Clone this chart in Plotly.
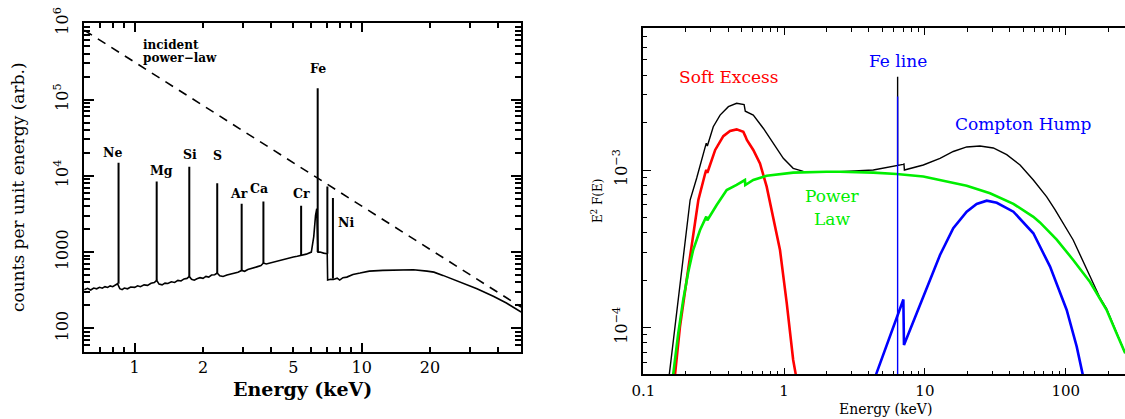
import plotly.graph_objects as go

# ---------------- data: left panel (reflection spectrum) ----------------
cont_E = [0.60, 0.62, 0.64, 0.66, 0.68, 0.70, 0.72, 0.74, 0.76, 0.78, 0.80, 0.82, 0.84, 0.86, 0.88,
          0.90, 0.93, 0.96, 1.00, 1.03, 1.06, 1.10, 1.14, 1.18, 1.22, 1.25, 1.28, 1.32, 1.36, 1.40,
          1.45, 1.50, 1.55, 1.60, 1.65, 1.70, 1.74, 1.78, 1.83, 1.88, 1.94, 2.00, 2.06, 2.12, 2.18,
          2.25, 2.31, 2.37, 2.45, 2.55, 2.65, 2.75, 2.85, 2.96, 3.05, 3.15, 3.30, 3.45, 3.60, 3.69,
          3.80, 4.00, 4.20, 4.40, 4.70, 5.00, 5.20, 5.44, 5.70, 6.00, 6.15, 6.26, 6.34, 6.42, 6.55,
          6.80, 7.05, 7.08, 7.30, 7.50, 7.80, 8.00, 8.27, 8.60, 9.15, 9.84, 10.8, 12.4, 14.7, 16.9,
          19.4, 20.8, 22.8, 27.1, 32.2, 38.2, 43.4, 50.4]
cont_V = [321, 335, 318, 338, 330, 345, 336, 352, 344, 360, 352, 372, 385, 331, 322,
          338, 330, 348, 345, 362, 352, 372, 366, 390, 398, 426, 380, 372, 392, 388,
          408, 400, 425, 418, 445, 452, 479, 440, 428, 448, 462, 452, 480, 470, 500,
          505, 531, 490, 479, 500, 512, 530, 545, 575, 560, 590, 610, 640, 665, 718,
          700, 730, 760, 778, 820, 860, 880, 906, 940, 1000, 1600, 3000, 3700, 1000, 1000,
          970, 950, 430, 440, 438, 455, 430, 462, 470, 510, 531, 563, 575, 575, 588,
          563, 546, 495, 405, 331, 262, 215, 164]

line_names = ["Ne", "Mg", "Si", "S", "Ar", "Ca", "Cr", "Fe", "", "Ni"]
line_E = [0.849, 1.25, 1.74, 2.31, 2.96, 3.69, 5.41, 6.40, 7.06, 7.47]
line_base = [385, 426, 479, 531, 575, 718, 906, 1000, 950, 448]
line_peak = [14800, 8420, 13200, 8020, 4300, 4600, 4040, 141000, 7240, 5110]

pl_E = [0.6, 50.4]
pl_V = [8.1e5, 190]

# ---------------- data: right panel (model components) ----------------
tot_E = [0.153, 0.168, 0.187, 0.215, 0.2395, 0.253, 0.275, 0.28, 0.285, 0.314, 0.351, 0.402, 0.46,
         0.52, 0.53, 0.604, 0.711, 0.838, 0.987, 1.16, 1.37, 2.0, 2.49, 4.3, 6.3, 6.4, 6.4, 6.4,
         7.0, 7.1, 7.15, 9.74, 12.8, 15.9, 19.8, 24.6, 30.6, 38.1, 47.4, 58.9, 73.3, 83.9, 113,
         148.8, 175, 195, 230, 264]
tot_V = [5.06e-5, 1.01e-4, 2.44e-4, 6.45e-4, 8.9e-4, 1.05e-3, 1.38e-3, 1.48e-3, 1.42e-3, 1.88e-3,
         2.23e-3, 2.52e-3, 2.65e-3, 2.6e-3, 2.36e-3, 2.23e-3, 1.84e-3, 1.48e-3, 1.186e-3, 1.025e-3,
         9.8e-4, 9.75e-4, 9.75e-4, 1.0e-3, 1.07e-3, 1.07e-3, 3.9e-3, 1.07e-3, 1.085e-3, 1.09e-3,
         1.0e-3, 1.076e-3, 1.186e-3, 1.31e-3, 1.40e-3, 1.42e-3, 1.38e-3, 1.25e-3, 1.076e-3, 8.64e-4,
         6.76e-4, 5.6e-4, 3.6e-4, 2.1e-4, 1.55e-4, 1.32e-4, 9.3e-5, 6.9e-5]

soft_E = [0.168, 0.182, 0.203, 0.2265, 0.246, 0.275, 0.28, 0.285, 0.324, 0.37, 0.413, 0.46, 0.513,
          0.53, 0.544, 0.604, 0.674, 0.752, 0.817, 0.935, 1.044, 1.16, 1.21]
soft_V = [5.06e-5, 1.01e-4, 2.0e-4, 3.97e-4, 6.45e-4, 9.5e-4, 1.0e-3, 9.6e-4, 1.34e-3, 1.64e-3,
          1.77e-3, 1.81e-3, 1.75e-3, 1.64e-3, 1.55e-3, 1.34e-3, 1.10e-3, 7.84e-4, 5.57e-4, 3.11e-4,
          1.43e-4, 6.24e-5, 5.06e-5]

plaw_E = [0.163, 0.177, 0.192, 0.209, 0.226, 0.253, 0.28, 0.285, 0.332, 0.391, 0.46, 0.527, 0.53,
          0.604, 0.752, 1.16, 2.0, 2.49, 4.3, 6.3, 9.74, 12.8, 19.8, 29, 42.5, 58.9, 65.6, 86.3,
          113, 148.8, 195, 230, 264]
plaw_V = [5.06e-5, 9.2e-5, 1.5e-4, 2.27e-4, 3.11e-4, 4.16e-4, 5.06e-4, 4.8e-4, 6.0e-4, 7.47e-4,
          8.05e-4, 8.64e-4, 8.03e-4, 8.64e-4, 9.2e-4, 9.62e-4, 9.75e-4, 9.75e-4, 9.62e-4, 9.43e-4,
          9.1e-4, 8.64e-4, 7.95e-4, 7.12e-4, 6.1e-4, 5.05e-4, 4.65e-4, 3.62e-4, 2.69e-4, 1.95e-4,
          1.3e-4, 9.2e-5, 6.9e-5]

hump_E = [4.5, 7.03, 7.1, 8.74, 10.3, 12.8, 15.9, 19.8, 23.3, 27.5, 32.4, 42.5, 58.9, 77.4, 101.6,
          119.7, 132]
hump_V = [5.06e-5, 1.51e-4, 7.77e-5, 1.234e-4, 1.80e-4, 2.89e-4, 4.27e-4, 5.44e-4, 6.09e-4,
          6.39e-4, 6.2e-4, 5.44e-4, 3.97e-4, 2.44e-4, 1.295e-4, 7.58e-5, 5.06e-5]

feline_E = [6.4, 6.4]
feline_V = [4.0e-5, 2.92e-3]

# ---------------- figure ----------------
W, H = 1125, 419
FONT = "DejaVu Serif"


def px(x):
    return x / W


def py(y):
    return 1 - y / H


fig = go.Figure()

# left panel
sx, sy = [], []
for e, b, p in zip(line_E, line_base, line_peak):
    sx += [e, e, None]
    sy += [b, p, None]

fig.add_trace(go.Scatter(x=cont_E, y=cont_V, mode="lines", line=dict(color="black", width=1.6),
                         xaxis="x", yaxis="y", showlegend=False, hoverinfo="skip"))
fig.add_trace(go.Scatter(x=sx, y=sy, mode="lines", line=dict(color="black", width=2),
                         xaxis="x", yaxis="y", showlegend=False, hoverinfo="skip"))
fig.add_trace(go.Scatter(x=pl_E, y=pl_V, mode="lines",
                         line=dict(color="black", width=1.6, dash="9px,7px"),
                         xaxis="x3", yaxis="y", showlegend=False, hoverinfo="skip"))

# right panel
fig.add_trace(go.Scatter(x=tot_E, y=tot_V, mode="lines", line=dict(color="black", width=1.4),
                         xaxis="x2", yaxis="y2", showlegend=False, hoverinfo="skip"))
fig.add_trace(go.Scatter(x=soft_E, y=soft_V, mode="lines", line=dict(color="#ff0000", width=2.6),
                         xaxis="x2", yaxis="y2", showlegend=False, hoverinfo="skip"))
fig.add_trace(go.Scatter(x=plaw_E, y=plaw_V, mode="lines", line=dict(color="#00ee00", width=2.6),
                         xaxis="x2", yaxis="y2", showlegend=False, hoverinfo="skip"))
fig.add_trace(go.Scatter(x=hump_E, y=hump_V, mode="lines", line=dict(color="#0000ff", width=2.6),
                         xaxis="x2", yaxis="y2", showlegend=False, hoverinfo="skip"))
fig.add_trace(go.Scatter(x=feline_E, y=feline_V, mode="lines", line=dict(color="#0000ff", width=1.4),
                         xaxis="x2", yaxis="y2", showlegend=False, hoverinfo="skip"))


def minors(lo, hi):
    out = []
    for k in range(-6, 7):
        for m in range(2, 10):
            v = m * 10.0 ** k
            if lo <= v <= hi:
                out.append(v)
    return out


tick_common = dict(showgrid=False, zeroline=False, showline=True, linecolor="black",
                   ticks="inside", tickcolor="black", mirror="ticks", automargin=False)

fig.update_layout(
    width=W, height=H, margin=dict(l=0, r=0, t=0, b=0, pad=0, autoexpand=False),
    paper_bgcolor="white", plot_bgcolor="white", showlegend=False,
    font=dict(family=FONT, color="black"),
    xaxis=dict(type="log", range=[-0.2233, 1.7018], domain=[px(84), px(521)], anchor="y",
               tickmode="array", tickvals=[1, 2, 5, 10, 20], ticktext=["1", "2", "5", "10", "20"],
               ticklen=5, tickwidth=1.5, linewidth=2, tickfont=dict(family=FONT, size=16),
               ticklabelstandoff=0,
               minor=dict(tickvals=[0.6, 0.7, 0.8, 0.9, 3, 4, 6, 7, 8, 9, 30, 40, 50],
                          ticks="inside", ticklen=5, tickwidth=1.5, tickcolor="black"),
               **tick_common),
    xaxis3=dict(type="log", range=[-0.2233, 1.7018], overlaying="x", anchor="y",
                tickmode="array", tickvals=[1, 10], ticks="inside", ticklen=9, tickwidth=1.5,
                tickcolor="black", mirror="ticks", showticklabels=False, showline=False,
                showgrid=False, zeroline=False, automargin=False),
    yaxis=dict(type="log", range=[1.69, 6.0], domain=[py(352), py(23.3)], anchor="x",
               tickmode="array", tickvals=[100, 1000, 1e4, 1e5, 1e6],
               ticktext=["100", "1000", "10<sup>4</sup>", "10<sup>5</sup>", "10<sup>6</sup>"],
               tickangle=-90, ticklen=10, tickwidth=1.5, linewidth=2,
               tickfont=dict(family=FONT, size=16), ticklabelstandoff=8,
               minor=dict(tickvals=minors(49, 1e6), ticks="inside", ticklen=6, tickwidth=1.5,
                          tickcolor="black"),
               **tick_common),
    xaxis2=dict(type="log", range=[-1, 2.421], domain=[px(643.3), 1.0], anchor="y2",
                tickmode="array", tickvals=[0.1, 1, 10, 100], ticktext=["0.1", "1", "10", "100"],
                ticklen=7, tickwidth=1.2, linewidth=1.5, tickfont=dict(family=FONT, size=15),
                ticklabelstandoff=2,
                minor=dict(tickvals=minors(0.1, 264), ticks="inside", ticklen=4, tickwidth=1.2,
                           tickcolor="black"),
                **tick_common),
    yaxis2=dict(type="log", range=[-4.2955, -2.1015], domain=[py(374.3), py(28.3)], anchor="x2",
                tickmode="array", tickvals=[1e-4, 1e-3],
                ticktext=["10<sup>\u22124</sup>", "10<sup>\u22123</sup>"],
                tickangle=-90, ticklen=8, tickwidth=1.2, linewidth=1.5,
                tickfont=dict(family=FONT, size=16), ticklabelstandoff=8,
                minor=dict(tickvals=minors(5e-5, 8e-3), ticks="inside", ticklen=4, tickwidth=1.2,
                           tickcolor="black"),
                showgrid=False, zeroline=False, showline=True, linecolor="black",
                ticks="inside", tickcolor="black", mirror=False, automargin=False),
)

ann = []


def txt(x, y, s, size, color="black", bold=False, angle=0, xanchor="center"):
    if bold:
        s = "<b>" + s + "</b>"
    ann.append(dict(x=px(x), y=py(y), xref="paper", yref="paper", text=s, showarrow=False,
                    xanchor=xanchor, yanchor="middle", textangle=angle,
                    font=dict(family=FONT, size=size, color=color)))


# left panel labels
label_pos = {"Ne": (112.5, 153), "Mg": (161, 170), "Si": (189.5, 154), "S": (217, 156),
             "Ar": (239, 193), "Ca": (259, 188), "Cr": (301, 193), "Fe": (318, 69), "Ni": (345.5, 223)}
for name in line_names:
    if name:
        x, y = label_pos[name]
        txt(x, y, name, 12.5, bold=True)
txt(141, 45, "incident", 12, bold=True, xanchor="left")
txt(141, 58, "power\u2212law", 12, bold=True, xanchor="left")
txt(302, 389, "Energy (keV)", 19, bold=True)
txt(18, 187, "counts per unit energy (arb.)", 17, angle=-90)

# right panel labels
txt(728, 77, "Soft Excess", 17, color="#ff0000")
txt(898, 61, "Fe line", 17, color="#0000ff")
txt(1023, 124, "Compton Hump", 17, color="#0000ff")
txt(832, 196, "Power", 17, color="#00ee00")
txt(832, 219, "Law", 17, color="#00ee00")
txt(885, 409, "Energy (keV)", 14)
txt(597, 201, "E<sup>2</sup> F(E)", 12, angle=-90)

fig.update_layout(annotations=ann)
fig.write_html("out.html")
